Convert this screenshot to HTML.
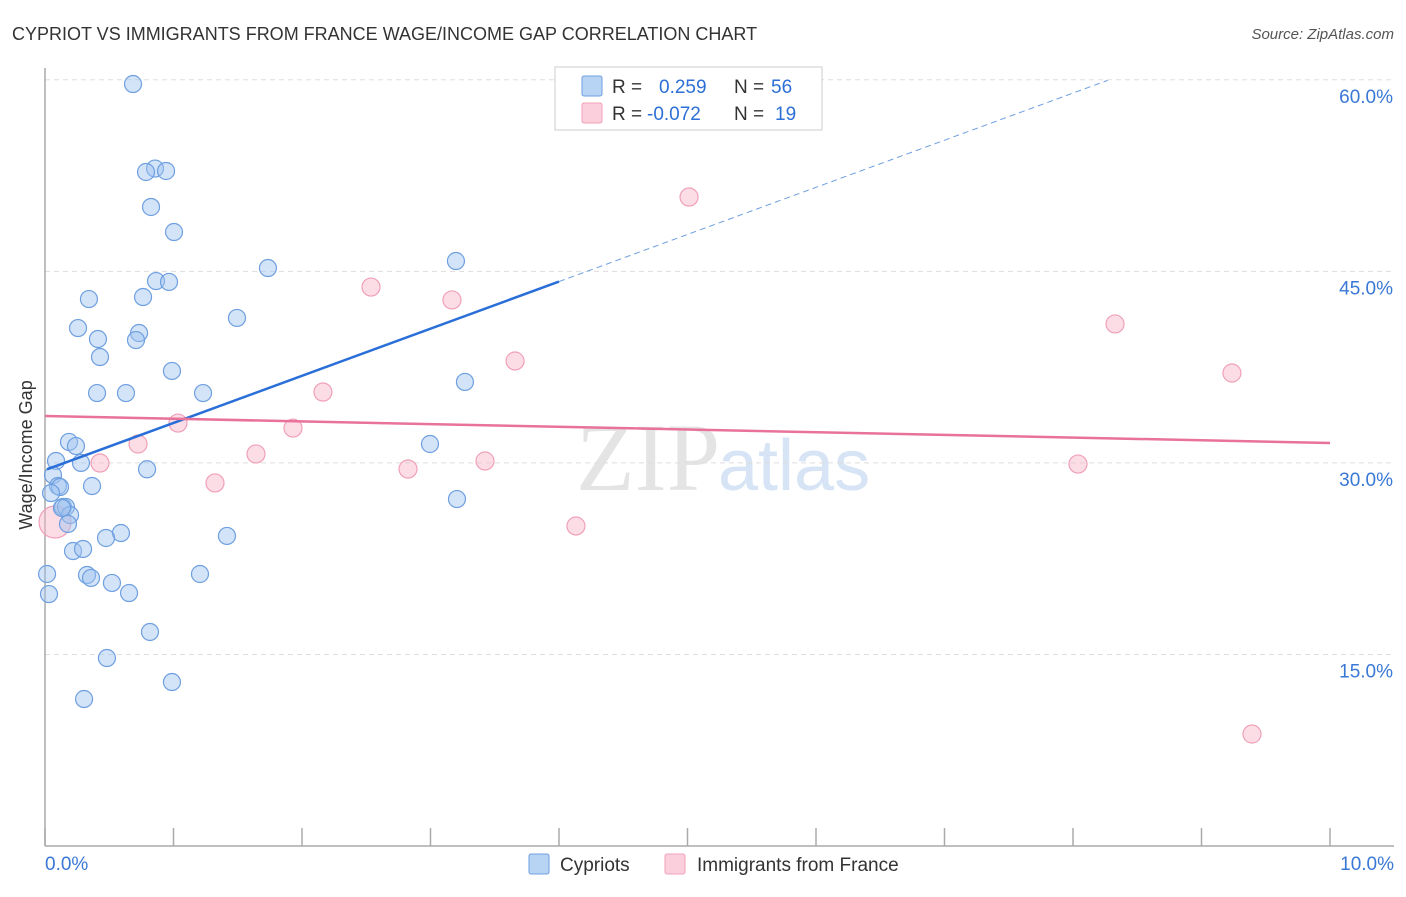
<!DOCTYPE html>
<html><head><meta charset="utf-8"><style>
body{margin:0;background:#fff;font-family:"Liberation Sans",sans-serif}
</style></head><body>
<svg width="1406" height="892" xmlns="http://www.w3.org/2000/svg" font-family="Liberation Sans, sans-serif">
<text x="12" y="40" font-size="18" fill="#333">CYPRIOT VS IMMIGRANTS FROM FRANCE WAGE/INCOME GAP CORRELATION CHART</text>
<text x="1394" y="39" font-size="15" fill="#555" text-anchor="end" font-style="italic">Source: ZipAtlas.com</text>
<text x="720" y="490" font-size="96" fill="#e4e4e4" text-anchor="end" font-family="Liberation Serif, serif">ZIP</text>
<text x="718" y="490" font-size="72" fill="#d6e4f5">atlas</text>
<g id="grid"></g>
<g id="axes"></g>
<g id="marks"></g>
<text x="32" y="455" font-size="18" fill="#333" text-anchor="middle" transform="rotate(-90 32 455)">Wage/Income Gap</text>
<g>
<rect x="555" y="67" width="267" height="63" fill="#fff" stroke="#ccc"/>
<rect x="582" y="76" width="20" height="20" fill="#b8d4f5" stroke="#6e9fe0" rx="2"/>
<rect x="582" y="103" width="20" height="20" fill="#fbcfdc" stroke="#f0a0b8" rx="2"/>
<text x="612" y="93" font-size="19" fill="#333">R = </text><text x="659" y="93" font-size="19" fill="#2c6fd6">0.259</text>
<text x="734" y="93" font-size="19" fill="#333">N = </text><text x="771" y="93" font-size="19" fill="#2c6fd6">56</text>
<text x="612" y="120" font-size="19" fill="#333">R = </text><text x="647" y="120" font-size="19" fill="#2c6fd6">-0.072</text>
<text x="734" y="120" font-size="19" fill="#333">N = </text><text x="775" y="120" font-size="19" fill="#2c6fd6">19</text>
</g>
<g>
<rect x="529" y="854" width="20" height="20" fill="#b8d4f5" stroke="#6e9fe0" rx="2"/>
<text x="560" y="871" font-size="19" fill="#333">Cypriots</text>
<rect x="665" y="854" width="20" height="20" fill="#fbcfdc" stroke="#f0a0b8" rx="2"/>
<text x="697" y="871" font-size="19" fill="#333">Immigrants from France</text>
</g>
</svg>
<script>
const xTicks=[0,1,2,3,4,5,6,7,8,9,10];
const yTicks=[15,30,45,60];
const blueX=[0.685,0.856,0.786,0.942,0.825,1.004,1.735,3.198,0.864,0.965,0.342,0.763,0.257,1.494,0.732,0.708,0.412,0.428,0.988,3.268,0.405,0.630,1.230,0.187,0.241,2.996,0.086,0.280,0.794,0.062,0.101,0.117,0.366,3.206,0.047,0.140,0.163,0.195,0.179,0.591,0.475,1.416,0.218,0.296,0.016,0.327,0.358,1.206,0.521,0.031,0.654,0.817,0.482,0.988,0.304,0.132];
const blueY=[59.67,53.05,52.78,52.86,50.04,48.08,45.26,45.81,44.24,44.17,42.83,42.99,40.56,41.35,40.17,39.62,39.70,38.29,37.20,36.34,35.47,35.47,35.47,31.64,31.32,31.48,30.15,30.0,29.5,29.05,28.19,28.11,28.19,27.17,27.64,26.55,26.55,25.92,25.22,24.51,24.12,24.28,23.10,23.26,21.30,21.22,20.99,21.30,20.60,19.73,19.81,16.76,14.72,12.84,11.51,26.47];
const pinkX=[5.012,2.537,3.167,8.327,3.658,9.237,2.163,1.035,0.724,1.930,0.428,1.642,2.825,3.424,1.323,8.039,4.132,9.393,0.078];
const pinkY=[50.82,43.77,42.76,40.88,37.98,37.04,35.55,33.12,31.48,32.73,29.99,30.70,29.52,30.15,28.43,29.91,25.06,8.77,25.37];
const pinkR=[9,9,9,9,9,9,9,9,9,9,9,9,9,9,9,9,9,9,16];
const blueTrend=[29.44,3.69];
const pinkTrend=[33.67,-0.211];
const NS="http://www.w3.org/2000/svg";
const sx=v=>45+v*128.5, sy=v=>846-v*12.77;
function mk(tag,attrs,parent){const e=document.createElementNS(NS,tag);for(const k in attrs)e.setAttribute(k,attrs[k]);document.getElementById(parent).appendChild(e);return e;}
yTicks.forEach(t=>{
 const g=mk('line',{x1:45,x2:1394,y1:sy(t),y2:sy(t),stroke:'#ddd','stroke-dasharray':'5,4'},'grid');
 
 
 const l=mk('text',{x:1393,y:sy(t)+23,'font-size':19,fill:'#3a78d6','text-anchor':'end'},'grid');
 l.textContent=t.toFixed(1)+'%';
 
 
});
const ya=mk('line',{x1:45,x2:45,y1:68,y2:846,stroke:'#aaa','stroke-width':1.5},'axes');


const xa=mk('line',{x1:45,x2:1394,y1:846,y2:846,stroke:'#aaa','stroke-width':1.5},'axes');


xTicks.forEach(t=>{
 const e=mk('line',{x1:sx(t),x2:sx(t),y1:828,y2:846,stroke:'#aaa','stroke-width':1.5},'axes');
 
 
});
[[0,'start','0.0%'],[10,'end','10.0%']].forEach(([v,a,s])=>{
 const t=mk('text',{x:v===0?45:1394,y:870,'font-size':19,fill:'#3a78d6','text-anchor':a},'axes');
 t.textContent=s;
 
 
});
pinkX.forEach((x,i)=>{
 const c=mk('circle',{cx:sx(x),cy:sy(pinkY[i]),r:pinkR[i],fill:'rgba(248,180,200,0.45)',stroke:'#f0a0b8','stroke-width':1.2},'marks');
 
 
});
blueX.forEach((x,i)=>{
 const c=mk('circle',{cx:sx(x),cy:sy(blueY[i]),r:8.5,fill:'rgba(160,195,240,0.45)',stroke:'#6e9fe0','stroke-width':1.2},'marks');
 
 
});
const bf=x=>blueTrend[0]+blueTrend[1]*x, pf=x=>pinkTrend[0]+pinkTrend[1]*x;
const b1=mk('line',{x1:sx(0.016),y1:sy(bf(0.016)),x2:sx(4),y2:sy(bf(4)),stroke:'#2a6fd8','stroke-width':2.5},'marks');


const b2=mk('line',{x1:sx(4),y1:sy(bf(4)),x2:sx(8.27),y2:sy(bf(8.27)),stroke:'#6e9fe0','stroke-width':1,'stroke-dasharray':'6,4'},'marks');


const p1=mk('line',{x1:sx(0),y1:sy(pf(0)),x2:sx(10),y2:sy(pf(10)),stroke:'#e8729a','stroke-width':2.5},'marks');


</script>
</body></html>
